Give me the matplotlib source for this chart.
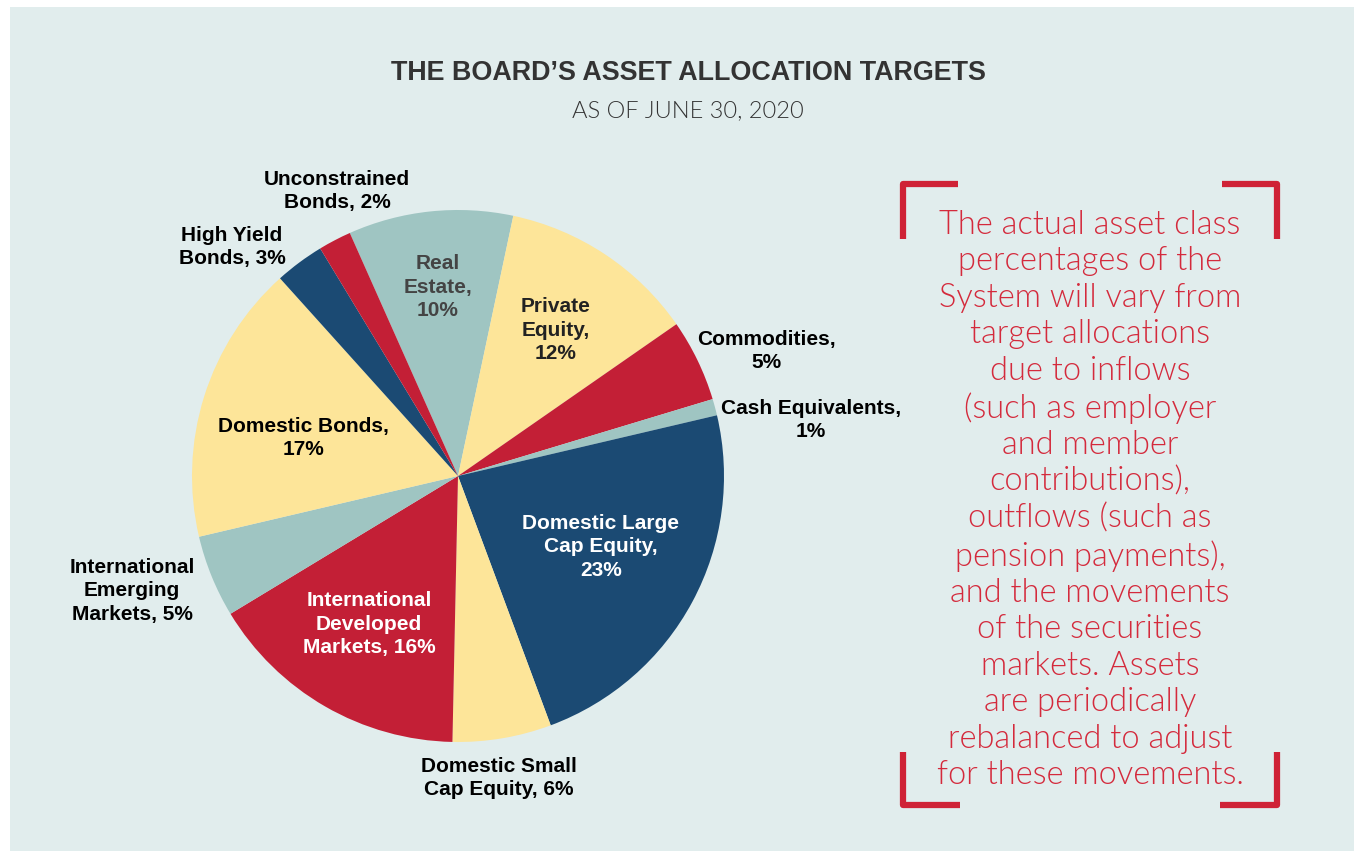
import matplotlib
matplotlib.use('Agg')
from matplotlib import pyplot as plt
from matplotlib.patches import Rectangle

W, H = 1355, 853

# slices, clockwise starting with Real Estate
labels = ['Real\nEstate,\n10%', 'Private\nEquity,\n12%', 'Commodities,\n5%',
          'Cash Equivalents,\n1%', 'Domestic Large\nCap Equity,\n23%',
          'Domestic Small\nCap Equity, 6%', 'International\nDeveloped\nMarkets, 16%',
          'International\nEmerging\nMarkets, 5%', 'Domestic Bonds,\n17%',
          'High Yield\nBonds, 3%', 'Unconstrained\nBonds, 2%']
values = [10, 12, 5, 1, 23, 6, 16, 5, 17, 3, 2]

NAVY = '#1b4a73'
RED = '#c31f36'
YEL = '#fde599'
TEAL = '#9fc5c2'
colors = [TEAL, YEL, RED, TEAL, NAVY, YEL, RED, TEAL, YEL, NAVY, RED]

# label placement (pixels from top-left) and text colour
label_pos = [(438, 287), (556, 330), (766, 351), (811, 420), (601, 547),
             (499, 778), (369, 624), (132, 591), (303, 438), (232, 247),
             (337, 191)]
label_col = ['#444444', '#222222', 'black', 'black', 'white', 'black',
             'white', 'black', 'black', 'black', 'black']

note = ("The actual asset class\npercentages of the\nSystem will vary from\n"
        "target allocations\ndue to inflows\n(such as employer\nand member\n"
        "contributions),\noutflows (such as\npension payments),\n"
        "and the movements\nof the securities\nmarkets. Assets\n"
        "are periodically\nrebalanced to adjust\nfor these movements.")

fig = plt.figure(figsize=(W / 100, H / 100), dpi=100)
fig.patch.set_facecolor('white')
ax = fig.add_axes([0, 0, 1, 1])

# panel background
ax.add_patch(Rectangle((10, 1), 1344, H - 9, facecolor='#e1eded', edgecolor='none', zorder=0))

cx, cy, r = 458, H - 477, 266
ax.pie(values, colors=colors, startangle=114, counterclock=False,
       center=(cx, cy), radius=r, frame=True,
       wedgeprops=dict(linewidth=0, zorder=2))
ax.set_xlim(0, W)
ax.set_ylim(0, H)
ax.set_aspect('equal')
ax.axis('off')

for lab, (x, y), c in zip(labels, label_pos, label_col):
    ax.text(x, H - y, lab, ha='center', va='center', color=c,
            fontsize=15, fontweight='bold', family='Liberation Sans',
            linespacing=1.3, zorder=5)

ax.text(688, H - 73, 'THE BOARD\u2019S ASSET ALLOCATION TARGETS', ha='center', va='center',
        fontsize=19.4, fontweight='bold', family='Liberation Sans', color='#333333')
ax.text(688, H - 111, 'AS OF JUNE 30, 2020', ha='center', va='center',
        fontsize=17, fontweight=300, family='Lato', color='#333333')

RED_TXT = '#d42a3c'
ax.text(1090, H - 500, note, ha='center', va='center', color=RED_TXT,
        fontsize=23.5, fontweight=300, family='Lato', linespacing=1.265)

# bracket corners
lw = 4.5
bc = '#cf2236'
ax.plot([903, 903, 958], [H - 240, H - 185, H - 185], color=bc, lw=lw, solid_capstyle='butt')
ax.plot([1222, 1277, 1277], [H - 185, H - 185, H - 240], color=bc, lw=lw, solid_capstyle='butt')
ax.plot([903, 903, 960], [H - 753, H - 806, H - 806], color=bc, lw=lw, solid_capstyle='butt')
ax.plot([1220, 1277, 1277], [H - 806, H - 806, H - 753], color=bc, lw=lw, solid_capstyle='butt')

fig.savefig('out.png', dpi=100)
